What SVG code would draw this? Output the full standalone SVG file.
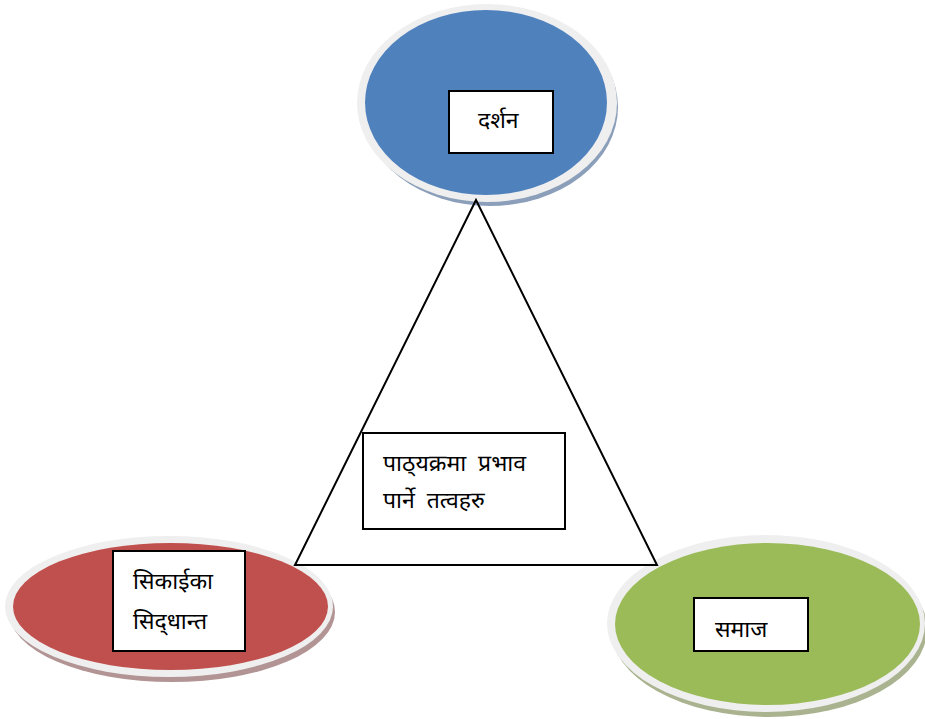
<svg xmlns="http://www.w3.org/2000/svg" width="925" height="719" viewBox="0 0 925 719">
<style>
.rim{fill:#efefef}
.box{fill:#fff;stroke:#000;stroke-width:2}
.t{font-family:"Noto Sans Devanagari","Noto Sans","DejaVu Sans",sans-serif;font-size:23px;fill:#000;white-space:pre}
</style>
<rect width="925" height="719" fill="#fff"/>
<g id="darshan">
<ellipse cx="490" cy="107" rx="128" ry="99" fill="#8b9fba"/>
<ellipse class="rim" cx="487" cy="103" rx="130" ry="99"/>
<ellipse cx="486" cy="102.5" rx="121" ry="92.5" fill="#4f81bd"/>
<rect class="box" x="449" y="91" width="104" height="62"/>
<text class="t" x="478" y="128">दर्शन</text>
</g>
<g id="sikai">
<ellipse cx="172" cy="612" rx="163" ry="70" fill="#b39494"/>
<ellipse class="rim" cx="169" cy="606.5" rx="164" ry="70.5"/>
<ellipse cx="170.5" cy="606.5" rx="157.5" ry="63.5" fill="#c0504d"/>
<rect class="box" x="113" y="551" width="132" height="100"/>
<text class="t" x="133" y="589">सिकाईका</text>
<text class="t" x="133" y="629">सिद्‌धान्त</text>
</g>
<g id="samaj">
<ellipse cx="769" cy="629" rx="158" ry="88" fill="#a9b38f"/>
<ellipse class="rim" cx="766" cy="623.5" rx="159" ry="88.5"/>
<ellipse cx="767.5" cy="624" rx="152.5" ry="81" fill="#9bbb59"/>
<rect class="box" x="694" y="598" width="114" height="53"/>
<text class="t" x="715" y="637">समाज</text>
</g>
<g id="connectors">
<polygon points="476,200 295,565 657,565" fill="none" stroke="#000" stroke-width="2"/>
</g>
<g id="center">
<rect class="box" x="363" y="433" width="202" height="96"/>
<text class="t" x="383" y="471" xml:space="preserve">पाठ्‌यक्रमा  प्रभाव</text>
<text class="t" x="383" y="508" xml:space="preserve">पार्ने  तत्वहरु</text>
</g>
</svg>
